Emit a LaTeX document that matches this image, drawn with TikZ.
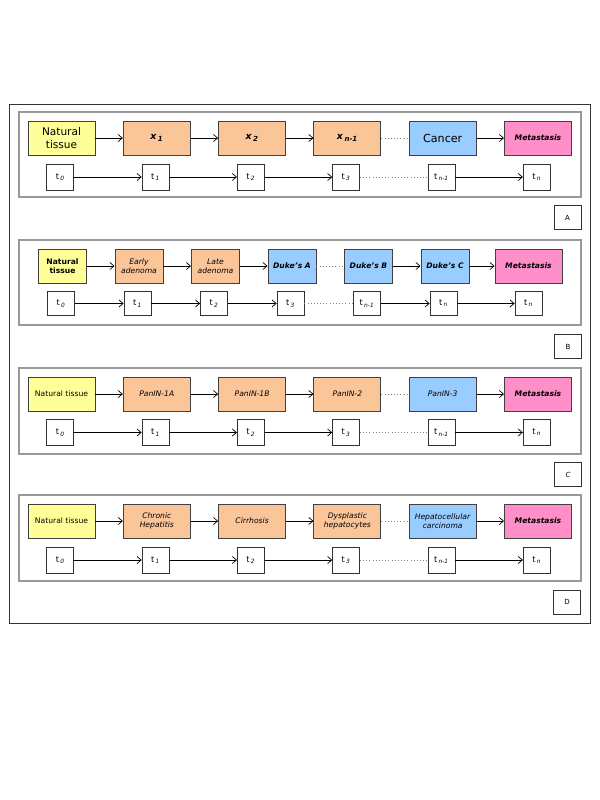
\documentclass[tikz,border=0pt]{standalone}
\usepackage{fontspec}
\setmainfont{DejaVu Sans}
\usetikzlibrary{arrows.meta}
\definecolor{tissue}{HTML}{FFFF99}
\definecolor{lesion}{HTML}{FBC59A}
\definecolor{tumour}{HTML}{99CCFF}
\definecolor{metas}{HTML}{FF8FC8}
\newcommand{\tk}[1]{t\,\textsubscript{\itshape #1}}
\newcommand{\xk}[1]{\textbf{\textit{x\,\textsubscript{#1}}}}

\begin{document}
\begin{tikzpicture}[x=0.03cm, y=-0.03cm, >={Straight Barb[length=3.5pt,width=6pt]}, line width=0.6pt,
    stage/.style={draw=black!75, line width=0.8pt, minimum width=2.01cm, minimum height=1.02cm, inner sep=1pt, align=center, font=\fontsize{6.5}{8}\selectfont},
    narrow/.style={stage, minimum width=1.44cm},
    tbox/.style={draw=black!80, fill=white, minimum width=0.81cm, minimum height=0.78cm, inner sep=0pt, font=\fontsize{7}{8}\selectfont},
    panel/.style={draw=black!40, line width=1pt},
    tag/.style={draw=black!80, minimum width=0.81cm, minimum height=0.72cm, inner sep=0pt, font=\fontsize{6}{7}\selectfont},
    gap/.style={dotted, draw=black!50, line width=0.7pt}]

    \useasboundingbox (0,0) rectangle (600,800);
    \draw[black!80, line width=0.8pt] (9,104) rectangle (590,623);

    % A
    \draw[panel] (19,112) rectangle (581,197);
    \draw (61.5,138) node[stage, fill=tissue, font=\fontsize{9}{10.5}\selectfont, name=A0]{Natural\\tissue};
    \draw (156.8,138) node[stage, fill=lesion, font=\fontsize{8}{9}\selectfont, name=A1]{\xk{1}};
    \draw (252.1,138) node[stage, fill=lesion, font=\fontsize{8}{9}\selectfont, name=A2]{\xk{2}};
    \draw (347.4,138) node[stage, fill=lesion, font=\fontsize{8}{9}\selectfont, name=A3]{\xk{n-1}};
    \draw (442.7,138) node[stage, fill=tumour, font=\fontsize{9.5}{10.5}\selectfont, name=A4]{Cancer};
    \draw (538,138) node[stage, fill=metas, name=A5]{\textbf{\textit{Metastasis}}};
    \draw[->] (A0) -- (A1);
    \draw[->] (A1) -- (A2);
    \draw[->] (A2) -- (A3);
    \draw[gap] (A3) -- (A4);
    \draw[->] (A4) -- (A5);

    \draw (60.2,177) node[tbox, name=At0]{\tk{0}};
    \draw (155.5,177) node[tbox, name=At1]{\tk{1}};
    \draw (250.8,177) node[tbox, name=At2]{\tk{2}};
    \draw (346.1,177) node[tbox, name=At3]{\tk{3}};
    \draw (441.4,177) node[tbox, name=At4]{\tk{n-1}};
    \draw (536.7,177) node[tbox, name=At5]{\tk{n}};
    \draw[->] (At0) -- (At1);
    \draw[->] (At1) -- (At2);
    \draw[->] (At2) -- (At3);
    \draw[gap] (At3) -- (At4);
    \draw[->] (At4) -- (At5);
    \draw (567.5,217.5) node[tag, name=LA]{A};

    % B
    \draw[panel] (19,240) rectangle (581,325);
    \draw (62.5,266) node[narrow, fill=tissue, name=B0]{\textbf{Natural}\\\textbf{tissue}};
    \draw (139,266) node[narrow, fill=lesion, name=B1]{\textit{Early}\\\textit{adenoma}};
    \draw (215.5,266) node[narrow, fill=lesion, name=B2]{\textit{Late}\\\textit{adenoma}};
    \draw (292,266) node[narrow, fill=tumour, name=B3]{\textbf{\textit{Duke's A}}};
    \draw (368.5,266) node[narrow, fill=tumour, name=B4]{\textbf{\textit{Duke's B}}};
    \draw (445,266) node[narrow, fill=tumour, name=B5]{\textbf{\textit{Duke's C}}};
    \draw (528.5,266) node[stage, fill=metas, name=B6]{\textbf{\textit{Metastasis}}};
    \draw[->] (B0) -- (B1);
    \draw[->] (B1) -- (B2);
    \draw[->] (B2) -- (B3);
    \draw[gap] (B3) -- (B4);
    \draw[->] (B4) -- (B5);
    \draw[->] (B5) -- (B6);

    \draw (61,303.5) node[tbox, minimum height=0.7cm, name=Bt0]{\tk{0}};
    \draw (137.5,303.5) node[tbox, minimum height=0.7cm, name=Bt1]{\tk{1}};
    \draw (214,303.5) node[tbox, minimum height=0.7cm, name=Bt2]{\tk{2}};
    \draw (290.5,303.5) node[tbox, minimum height=0.7cm, name=Bt3]{\tk{3}};
    \draw (367,303.5) node[tbox, minimum height=0.7cm, name=Bt4]{\tk{n-1}};
    \draw (443.5,303.5) node[tbox, minimum height=0.7cm, name=Bt5]{\tk{n}};
    \draw (528.5,303.5) node[tbox, minimum height=0.7cm, name=Bt6]{\tk{n}};
    \draw[->] (Bt0) -- (Bt1);
    \draw[->] (Bt1) -- (Bt2);
    \draw[->] (Bt2) -- (Bt3);
    \draw[gap] (Bt3) -- (Bt4);
    \draw[->] (Bt4) -- (Bt5);
    \draw[->] (Bt5) -- (Bt6);
    \draw (568,346.5) node[tag, name=LB]{B};

    % C
    \draw[panel] (19,368) rectangle (581,454);
    \draw (61.5,394) node[stage, fill=tissue, name=C0]{Natural tissue};
    \draw (156.8,394) node[stage, fill=lesion, name=C1]{\textit{PanIN-1A}};
    \draw (252.1,394) node[stage, fill=lesion, name=C2]{\textit{PanIN-1B}};
    \draw (347.4,394) node[stage, fill=lesion, name=C3]{\textit{PanIN-2}};
    \draw (442.7,394) node[stage, fill=tumour, name=C4]{\textit{PanIN-3}};
    \draw (538,394) node[stage, fill=metas, name=C5]{\textbf{\textit{Metastasis}}};
    \draw[->] (C0) -- (C1);
    \draw[->] (C1) -- (C2);
    \draw[->] (C2) -- (C3);
    \draw[gap] (C3) -- (C4);
    \draw[->] (C4) -- (C5);

    \draw (60.2,432.5) node[tbox, name=Ct0]{\tk{0}};
    \draw (155.5,432.5) node[tbox, name=Ct1]{\tk{1}};
    \draw (250.8,432.5) node[tbox, name=Ct2]{\tk{2}};
    \draw (346.1,432.5) node[tbox, name=Ct3]{\tk{3}};
    \draw (441.4,432.5) node[tbox, name=Ct4]{\tk{n-1}};
    \draw (536.7,432.5) node[tbox, name=Ct5]{\tk{n}};
    \draw[->] (Ct0) -- (Ct1);
    \draw[->] (Ct1) -- (Ct2);
    \draw[->] (Ct2) -- (Ct3);
    \draw[gap] (Ct3) -- (Ct4);
    \draw[->] (Ct4) -- (Ct5);
    \draw (568,474.5) node[tag, name=LC]{\textit{C}};

    % D
    \draw[panel] (19,495) rectangle (581,581);
    \draw (61.5,521) node[stage, fill=tissue, name=D0]{Natural tissue};
    \draw (156.8,521) node[stage, fill=lesion, name=D1]{\textit{Chronic}\\\textit{Hepatitis}};
    \draw (252.1,521) node[stage, fill=lesion, name=D2]{\textit{Cirrhosis}};
    \draw (347.4,521) node[stage, fill=lesion, name=D3]{\textit{Dysplastic}\\\textit{hepatocytes}};
    \draw (442.7,521) node[stage, fill=tumour, name=D4]{\textit{Hepatocellular}\\\textit{carcinoma}};
    \draw (538,521) node[stage, fill=metas, name=D5]{\textbf{\textit{Metastasis}}};
    \draw[->] (D0) -- (D1);
    \draw[->] (D1) -- (D2);
    \draw[->] (D2) -- (D3);
    \draw[gap] (D3) -- (D4);
    \draw[->] (D4) -- (D5);

    \draw (60.2,560) node[tbox, name=Dt0]{\tk{0}};
    \draw (155.5,560) node[tbox, name=Dt1]{\tk{1}};
    \draw (250.8,560) node[tbox, name=Dt2]{\tk{2}};
    \draw (346.1,560) node[tbox, name=Dt3]{\tk{3}};
    \draw (441.4,560) node[tbox, name=Dt4]{\tk{n-1}};
    \draw (536.7,560) node[tbox, name=Dt5]{\tk{n}};
    \draw[->] (Dt0) -- (Dt1);
    \draw[->] (Dt1) -- (Dt2);
    \draw[->] (Dt2) -- (Dt3);
    \draw[gap] (Dt3) -- (Dt4);
    \draw[->] (Dt4) -- (Dt5);
    \draw (567,602) node[tag, name=LD]{D};
\end{tikzpicture}
\end{document}
